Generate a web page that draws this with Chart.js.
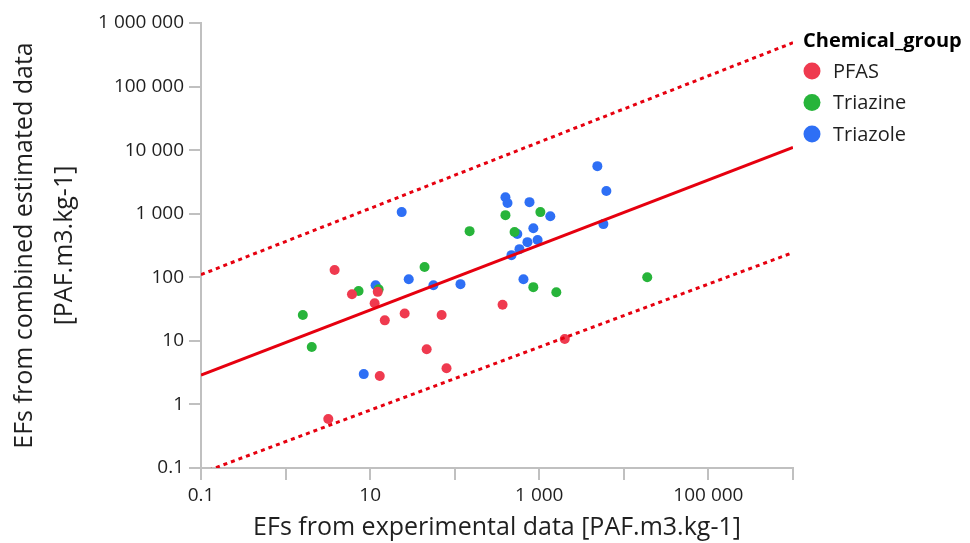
<!DOCTYPE html>
<html>
<head>
<meta charset="utf-8">
<script src="https://cdn.jsdelivr.net/npm/chart.js@4.4.1/dist/chart.umd.min.js"></script>
<style>
  html, body { margin: 0; background: #fff; }
  #wrap { width: 970px; height: 543px; }
</style>
</head>
<body>
<div id="wrap"><canvas id="chart"></canvas></div>
<script>
'use strict';

// ── Data ───────────────────────────────────────────────────
const PFAS_X = [3.8, 6.1, 11.3, 14.9, 25.6, 70, 46.6, 13, 80, 3.2, 368, 2000, 12.3];
const PFAS_Y = [130, 54, 39, 21, 27, 25.5, 7.4, 2.8, 3.7, 0.59, 37, 10.7, 59];

const TRIAZINE_X = [1.6, 2.04, 7.3, 12.6, 44, 150, 398, 1030, 510, 850, 1590, 18900];
const TRIAZINE_Y = [25.5, 8.0, 61, 65, 145, 532, 950, 1060, 514, 70, 58, 100];

const TRIAZOLE_X = [23.6, 11.6, 28.6, 56, 117, 8.4, 4860, 6210, 398, 421, 766, 1350, 851, 550, 724, 955, 583, 469, 5730, 650];
const TRIAZOLE_Y = [1060, 75, 93, 75, 78, 3.0, 5600, 2270, 1820, 1470, 1520, 912, 590, 480, 357, 385, 277, 223, 686, 93];

// regression line and the two bounds (end points)
const LINE_X = [0.1, 1000000];
const FIT_Y = [2.9, 11000];
const UPPER_Y = [110, 490000];
const LOWER_Y = [0.083, 245];

const TICKS = [0.1, 1, 10, 100, 1000, 10000, 100000, 1000000];
const X_LABELED = [0.1, 10, 1000, 100000];

const GROUPS = ['PFAS', 'Triazine', 'Triazole'];
const LEGEND_TITLE = 'Chemical_group';
const X_TITLE = 'EFs from experimental data [PAF.m3.kg-1]';
const Y_TITLE = ['EFs from combined estimated data', '[PAF.m3.kg-1]'];

// ── Style ──────────────────────────────────────────────────
const FONT = "'Open Sans', 'Noto Sans', sans-serif";
const COLORS = ['#ef3a4f', '#27b43a', '#2e6ff5'];
const LINE_RED = '#e6000f';
const AXIS_GREY = '#c0c0c0';
const TEXT = '#1f1f1f';

// ── Helpers ────────────────────────────────────────────────
const pts = (xs, ys) => xs.map((x, i) => ({ x, y: ys[i] }));
const fmt = v => v < 1 ? String(v) : String(Math.round(v)).replace(/\B(?=(\d{3})+(?!\d))/g, ' ');

function lineSet(ys, dashed) {
    return {
        type: 'scatter',
        data: pts(LINE_X, ys),
        showLine: true,
        borderColor: LINE_RED,
        borderWidth: 3,
        borderDash: dashed ? [4, 4] : [],
        pointRadius: 0,
        order: 0,
    };
}

function groupSet(i, xs, ys) {
    return {
        label: GROUPS[i],
        group: true,
        data: pts(xs, ys),
        backgroundColor: COLORS[i],
        borderWidth: 0,
        pointRadius: 5,
        order: 1,
    };
}

// ── Legend (drawn at the right) ────────────────────────────
const groupLegend = {
    id: 'groupLegend',
    afterDraw(chart) {
        const ctx = chart.ctx;
        ctx.save();
        ctx.textBaseline = 'middle';
        ctx.textAlign = 'left';
        ctx.fillStyle = '#000';
        ctx.font = `bold 20px ${FONT}`;
        ctx.fillText(LEGEND_TITLE, 803, 41);
        chart.data.datasets.filter(d => d.group).forEach((d, i) => {
            const y = 71 + i * 31.5;
            ctx.beginPath();
            ctx.arc(812, y, 8.5, 0, Math.PI * 2);
            ctx.fillStyle = d.backgroundColor;
            ctx.fill();
            ctx.fillStyle = TEXT;
            ctx.font = `20px ${FONT}`;
            ctx.fillText(d.label, 833, y + 1);
        });
        ctx.restore();
    },
};

function axis(opts) {
    return Object.assign({
        type: 'logarithmic',
        min: 0.1,
        max: 1000000,
        border: { color: AXIS_GREY, width: 2 },
        grid: { drawOnChartArea: false, color: AXIS_GREY, lineWidth: 2, tickLength: 12 },
        afterBuildTicks: s => { s.ticks = TICKS.map(value => ({ value })); },
    }, opts);
}

new Chart(document.getElementById('chart'), {
    type: 'scatter',
    data: {
        datasets: [
            lineSet(FIT_Y, false),
            lineSet(UPPER_Y, true),
            lineSet(LOWER_Y, true),
            groupSet(0, PFAS_X, PFAS_Y),
            groupSet(1, TRIAZINE_X, TRIAZINE_Y),
            groupSet(2, TRIAZOLE_X, TRIAZOLE_Y),
        ],
    },
    options: {
        responsive: true,
        maintainAspectRatio: false,
        animation: false,
        layout: { padding: { top: 23, right: 177, left: 0, bottom: 0 } },
        plugins: { legend: { display: false }, tooltip: { enabled: false } },
        scales: {
            x: axis({
                position: 'bottom',
                ticks: {
                    autoSkip: false, maxRotation: 0, padding: 4, color: TEXT,
                    font: { family: FONT, size: 19 },
                    callback: v => X_LABELED.includes(v) ? fmt(v) : '',
                },
                title: { display: true, text: X_TITLE, color: TEXT, font: { family: FONT, size: 25 }, padding: { top: 0, bottom: 0 } },
                afterFit: s => { s.height = 75; },
            }),
            y: axis({
                position: 'left',
                ticks: {
                    autoSkip: false, padding: 5, color: TEXT,
                    font: { family: FONT, size: 19 },
                    callback: v => fmt(v),
                },
                title: { display: true, text: Y_TITLE, color: TEXT, font: { family: FONT, size: 25, lineHeight: 1.6 }, padding: { top: 5, bottom: 0 } },
                afterFit: s => { s.width = 201; },
            }),
        },
    },
    plugins: [groupLegend],
});
</script>
</body>
</html>
